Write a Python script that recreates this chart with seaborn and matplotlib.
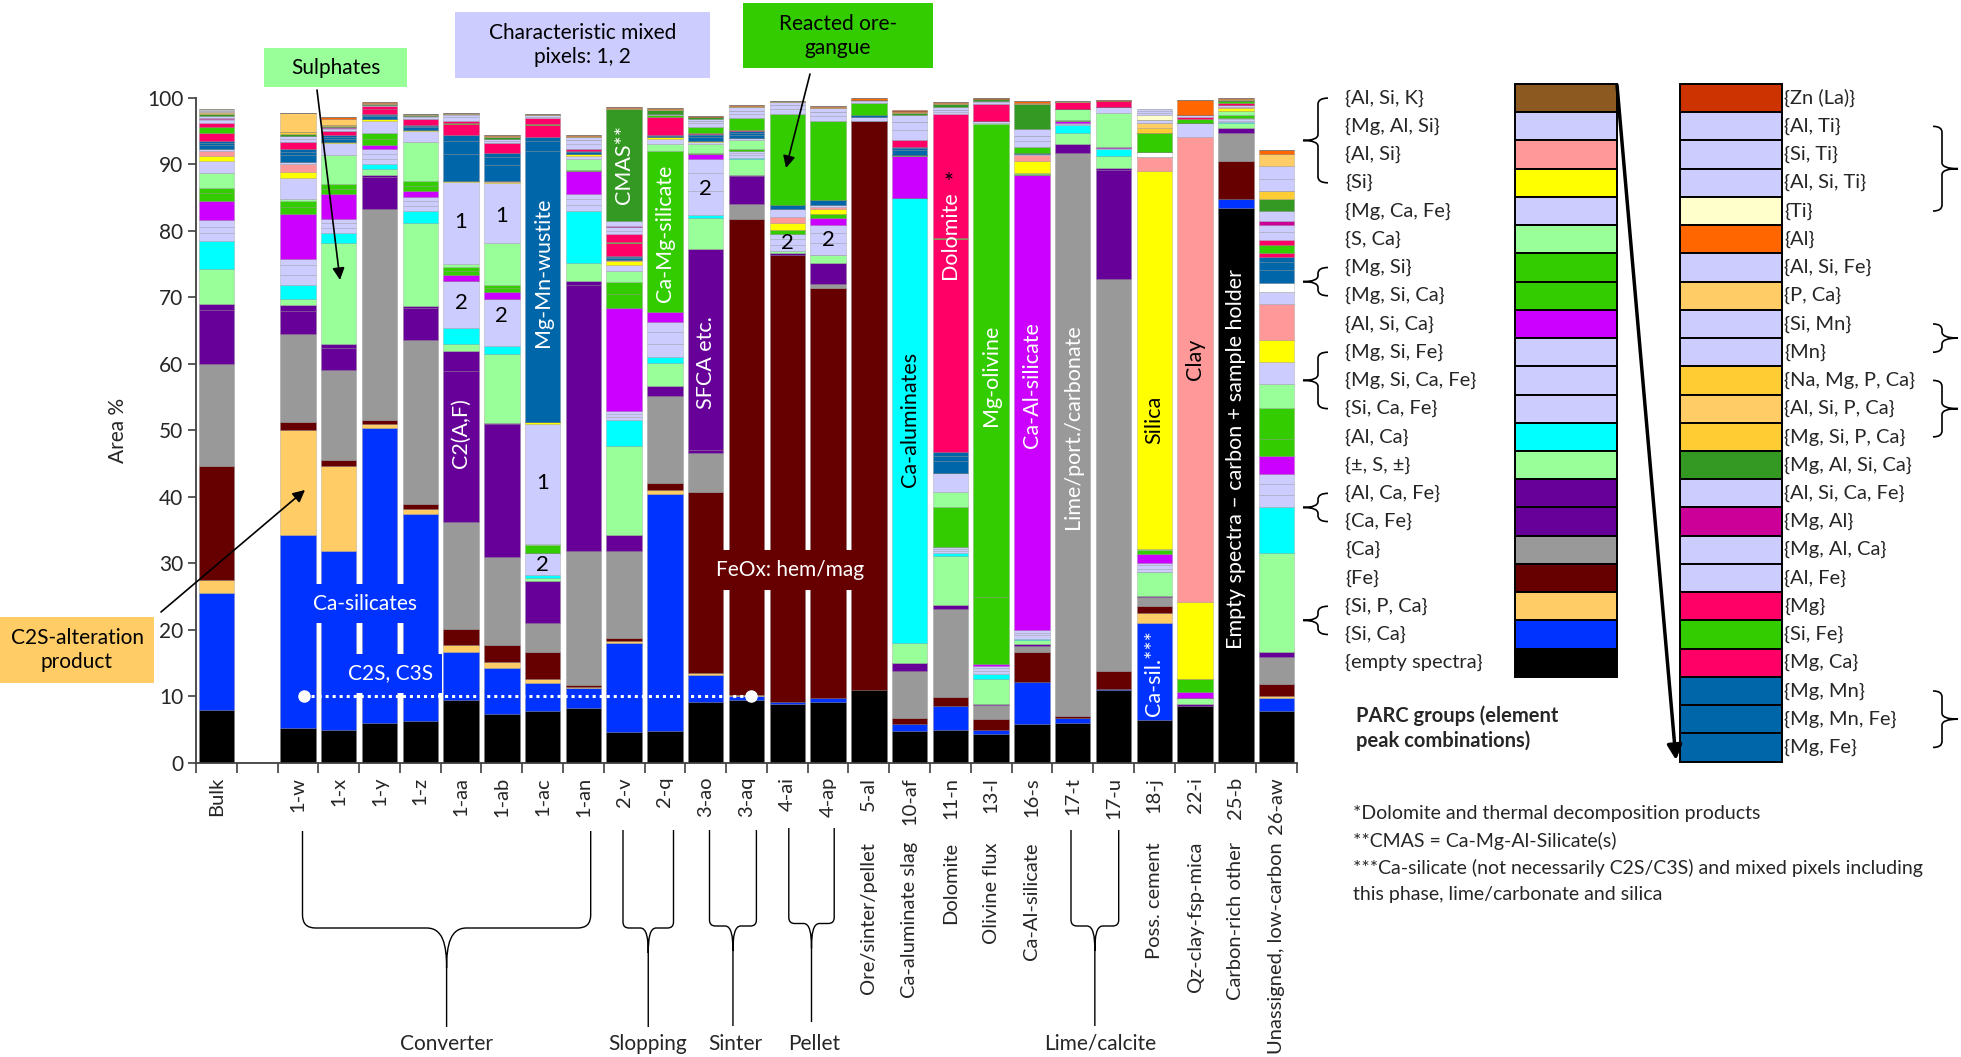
import numpy as np
import pandas as pd
import matplotlib
matplotlib.use("Agg")
import matplotlib.pyplot as plt
import matplotlib.transforms as mtransforms
from matplotlib.path import Path
from matplotlib.patches import PathPatch, Rectangle
import seaborn as sns

sns.set_theme(style="ticks")
plt.rcParams['font.family'] = ['Lato', 'DejaVu Sans']

# ---------------- data ----------------
GROUPS = ["E", "SiCa", "SiPCa", "Fe", "Ca", "CaFe", "AlCaFe", "pmS", "AlCa", "SiCaFe",
          "MgSiCaFe", "MgSiFe", "AlSiCa", "MgSiCa", "MgSi", "SCa", "MgCaFe", "Si", "AlSi",
          "MgAlSi", "AlSiK", "gap", "MgFe", "MgMnFe", "MgMn", "MgCa", "SiFe", "Mg", "AlFe",
          "MgAlCa", "MgAl", "AlSiCaFe", "MgAlSiCa", "MgSiPCa", "AlSiPCa", "NaMgPCa", "Mn",
          "SiMn", "PCa", "AlSiFe", "Al", "Ti", "AlSiTi", "SiTi", "AlTi", "ZnLa"]

LABELS = {"E": "{empty spectra}", "SiCa": "{Si, Ca}", "SiPCa": "{Si, P, Ca}", "Fe": "{Fe}",
          "Ca": "{Ca}", "CaFe": "{Ca, Fe}", "AlCaFe": "{Al, Ca, Fe}", "pmS": "{±, S, ±}",
          "AlCa": "{Al, Ca}", "SiCaFe": "{Si, Ca, Fe}", "MgSiCaFe": "{Mg, Si, Ca, Fe}",
          "MgSiFe": "{Mg, Si, Fe}", "AlSiCa": "{Al, Si, Ca}", "MgSiCa": "{Mg, Si, Ca}",
          "MgSi": "{Mg, Si}", "SCa": "{S, Ca}", "MgCaFe": "{Mg, Ca, Fe}", "Si": "{Si}",
          "AlSi": "{Al, Si}", "MgAlSi": "{Mg, Al, Si}", "AlSiK": "{Al, Si, K}",
          "MgFe": "{Mg, Fe}", "MgMnFe": "{Mg, Mn, Fe}", "MgMn": "{Mg, Mn}", "MgCa": "{Mg, Ca}",
          "SiFe": "{Si, Fe}", "Mg": "{Mg}", "AlFe": "{Al, Fe}", "MgAlCa": "{Mg, Al, Ca}",
          "MgAl": "{Mg, Al}", "AlSiCaFe": "{Al, Si, Ca, Fe}", "MgAlSiCa": "{Mg, Al, Si, Ca}",
          "MgSiPCa": "{Mg, Si, P, Ca}", "AlSiPCa": "{Al, Si, P, Ca}", "NaMgPCa": "{Na, Mg, P, Ca}",
          "Mn": "{Mn}", "SiMn": "{Si, Mn}", "PCa": "{P, Ca}", "AlSiFe": "{Al, Si, Fe}",
          "Al": "{Al}", "Ti": "{Ti}", "AlSiTi": "{Al, Si, Ti}", "SiTi": "{Si, Ti}",
          "AlTi": "{Al, Ti}", "ZnLa": "{Zn (La)}"}

LAV = "#CCCCFF"
COLORS = {"E": "#000000", "SiCa": "#0033FF", "SiPCa": "#FFCC66", "Fe": "#660000", "Ca": "#999999",
          "CaFe": "#660099", "AlCaFe": "#660099", "pmS": "#99FF99", "AlCa": "#00FFFF",
          "SiCaFe": LAV, "MgSiCaFe": LAV, "MgSiFe": LAV, "AlSiCa": "#CC00FF", "MgSiCa": "#33CC00",
          "MgSi": "#33CC00", "SCa": "#99FF99", "MgCaFe": LAV, "Si": "#FFFF00", "AlSi": "#FF9999",
          "MgAlSi": LAV, "AlSiK": "#8C5A20", "gap": "#FFFFFF", "MgFe": "#0066AA", "MgMnFe": "#0066AA",
          "MgMn": "#0066AA", "MgCa": "#FF0066", "SiFe": "#33CC00", "Mg": "#FF0066", "AlFe": LAV,
          "MgAlCa": LAV, "MgAl": "#CC0099", "AlSiCaFe": LAV, "MgAlSiCa": "#339922",
          "MgSiPCa": "#FFCC33", "AlSiPCa": "#FFCC66", "NaMgPCa": "#FFCC33", "Mn": LAV, "SiMn": LAV,
          "PCa": "#FFCC66", "AlSiFe": LAV, "Al": "#FF6600", "Ti": "#FFFFCC", "AlSiTi": LAV,
          "SiTi": LAV, "AlTi": LAV, "ZnLa": "#CC3300"}

codes = ["Bulk", "", "1-w", "1-x", "1-y", "1-z", "1-aa", "1-ab", "1-ac", "1-an", "2-v", "2-q",
         "3-ao", "3-aq", "4-ai", "4-ap", "5-al", "10-af", "11-n", "13-l", "16-s", "17-t", "17-u",
         "18-j", "22-i", "25-b", "26-aw"]
names = {16: "Ore/sinter/pellet", 17: "Ca-aluminate slag", 18: "Dolomite", 19: "Olivine flux",
         20: "Ca-Al-silicate", 23: "Poss. cement", 24: "Qz-clay-fsp-mica", 25: "Carbon-rich other",
         26: "Unassigned, low-carbon"}

bulk = dict(E=8.0, SiCa=17.5, SiPCa=2.0, Fe=17.2, Ca=15.2, CaFe=8.1, AlCaFe=0.9, pmS=5.3, AlCa=4.2,
            SiCaFe=1.2, MgSiCaFe=1.0, MgSiFe=1.0, AlSiCa=2.8, MgSiCa=1.2, MgSi=0.8, SCa=2.2,
            MgCaFe=1.8, Si=0.8, AlSi=0.7, MgAlSi=0.3, MgFe=0.6, MgMnFe=0.3, MgMn=0.3, MgCa=1.2,
            SiFe=0.9, Mg=0.7, AlFe=0.4, MgAlCa=0.2, MgAl=0.15, AlSiCaFe=0.2, MgAlSiCa=0.3,
            MgSiPCa=0.1, AlSiPCa=0.15, NaMgPCa=0.1, Mn=0.05, SiMn=0.05, PCa=0.1, AlSiFe=0.1,
            Al=0.05, Ti=0.05, ZnLa=0.05)
w1 = dict(E=5.2, SiCa=29.1, SiPCa=15.8, Fe=1.1, Ca=13.3, CaFe=3.4, AlCaFe=0.9, pmS=0.9, AlCa=2.1,
          SiCaFe=1.5, MgSiCaFe=1.5, MgSiFe=1.0, AlSiCa=6.7, MgSiCa=1.0, MgSi=0.9, SCa=0.4,
          MgCaFe=3.1, Si=0.9, AlSi=1.2, MgAlSi=0.3, MgFe=1.0, MgMnFe=0.5, MgMn=0.5, MgCa=1.0,
          AlFe=0.5, MgAlCa=0.4, MgAlSiCa=0.3, MgSiPCa=0.3, PCa=2.8)
x1 = dict(E=5.0, SiCa=26.9, SiPCa=12.8, Fe=0.9, Ca=13.5, CaFe=3.3, AlCaFe=0.5, pmS=15.2, AlCa=1.5,
          SiCaFe=0.8, MgSiCaFe=0.7, MgSiFe=0.7, AlSiCa=3.7, MgSiCa=0.8, MgSi=0.7, SCa=4.3,
          MgCaFe=1.9, Si=0.1, MgFe=0.5, MgMnFe=0.3, MgMn=0.2, MgCa=0.7, AlFe=0.2, MgAlCa=0.2,
          MgAl=0.1, MgAlSiCa=0.2, MgSiPCa=0.2, PCa=0.9, Al=0.2)
y1 = dict(E=6.0, SiCa=44.3, SiPCa=0.6, Fe=0.7, Ca=31.6, CaFe=4.8, AlCaFe=0.4, pmS=0.8, AlCa=0.8,
          SiCaFe=0.8, MgSiCaFe=0.7, MgSiFe=0.7, AlSiCa=0.7, MgSiCa=0.9, MgSi=0.8, SCa=0.1,
          MgCaFe=1.8, Si=0.3, MgFe=0.4, MgMnFe=0.2, MgMn=0.1, MgCa=0.8, Mg=0.4, AlFe=0.2,
          MgAlSiCa=0.1, PCa=0.2, Al=0.1)
z1 = dict(E=6.3, SiCa=31.1, SiPCa=0.8, Fe=0.7, Ca=24.7, CaFe=4.7, AlCaFe=0.4, pmS=12.4, AlCa=1.8,
          SiCaFe=0.8, MgSiCaFe=0.7, MgSiFe=0.6, AlSiCa=0.9, MgSiCa=0.8, MgSi=0.7, SCa=5.9,
          MgCaFe=1.6, Si=0.2, MgFe=0.4, MgMnFe=0.2, MgMn=0.2, MgCa=0.8, AlFe=0.3, MgAlCa=0.2,
          MgAlSiCa=0.1, PCa=0.2)
aa1 = dict(E=9.4, SiCa=7.3, SiPCa=1.0, Fe=2.5, Ca=16.0, CaFe=22.7, AlCaFe=3.0, pmS=1.0, AlCa=2.5,
           SiCaFe=7.0, AlSiCa=0.9, MgSiCa=0.7, MgSi=0.6, SCa=0.4, MgCaFe=12.3, Si=0.2, MgFe=4.0,
           MgMnFe=2.0, MgMn=0.9, MgCa=1.6, SiFe=0.2, Mg=0.3, AlFe=0.5, MgAlCa=0.3, AlSiCaFe=0.2,
           PCa=0.1)
ab1 = dict(E=7.3, SiCa=7.0, SiPCa=0.9, Fe=2.6, Ca=13.1, CaFe=20.0, AlCaFe=0.2, pmS=10.4, AlCa=1.2,
           SiCaFe=7.0, AlSiCa=1.0, MgSiCa=0.6, MgSi=0.6, SCa=6.3, MgCaFe=8.9, Si=0.2, AlSi=0.1,
           MgFe=2.5, MgMnFe=1.2, MgMn=0.6, MgCa=1.5, AlFe=0.3, MgAlCa=0.3, MgAlSiCa=0.2, PCa=0.2,
           Al=0.1)
ac1 = dict(E=7.8, SiCa=4.2, SiPCa=0.6, Fe=4.1, Ca=4.3, CaFe=6.4, pmS=0.4, AlCa=0.5, SiCaFe=3.2,
           AlSiCa=0.1, MgSiCa=1.2, SCa=0.1, MgCaFe=18.0, Si=0.3, MgFe=40.8, MgMnFe=1.5, MgMn=0.6,
           MgCa=1.7, SiFe=0.2, Mg=0.9, AlFe=0.2, MgAlCa=0.2, PCa=0.2)
an1 = dict(E=8.3, SiCa=3.0, SiPCa=0.1, Fe=0.3, Ca=20.2, CaFe=40.0, AlCaFe=0.5, pmS=2.8, AlCa=7.7,
           SiCaFe=1.0, MgSiCaFe=0.8, MgSiFe=0.8, AlSiCa=3.4, MgSiCa=0.2, SCa=1.6, MgCaFe=0.5,
           Si=0.3, MgFe=0.3, MgMnFe=0.1, MgMn=0.1, MgCa=0.3, AlFe=0.7, MgAlCa=0.6, AlSiCaFe=0.5,
           PCa=0.1, Al=0.1)
v2 = dict(E=4.7, SiCa=13.3, SiPCa=0.4, Fe=0.4, Ca=13.0, CaFe=2.4, pmS=13.4, AlCa=3.9, SiCaFe=0.5,
          MgSiCaFe=0.5, MgSiFe=0.4, AlSiCa=15.5, MgSiCa=2.0, MgSi=1.9, SCa=1.7, MgCaFe=0.9,
          Si=0.5, AlSi=0.2, MgFe=0.3, MgMnFe=0.2, MgMn=0.1, MgCa=2.0, SiFe=0.1, Mg=1.2, AlFe=0.5,
          MgAlCa=0.5, MgAl=0.2, AlSiCaFe=0.7, MgAlSiCa=16.8, PCa=0.2, Al=0.1)
q2 = dict(E=4.8, SiCa=35.6, SiPCa=0.6, Fe=1.0, Ca=13.2, CaFe=1.4, pmS=3.5, AlCa=0.9, SiCaFe=2.0,
          MgSiCaFe=1.8, MgSiFe=1.5, AlSiCa=1.5, MgSiCa=24.2, SCa=1.0, MgCaFe=0.8, Si=0.2,
          MgFe=0.2, MgMn=0.1, MgCa=2.8, SiFe=0.2, AlFe=0.2, MgAlSiCa=0.6, PCa=0.2, Al=0.1)
ao3 = dict(E=9.1, SiCa=4.1, SiPCa=0.3, Fe=27.2, Ca=5.9, CaFe=0.5, AlCaFe=30.2, pmS=4.6, AlCa=0.5,
           SiCaFe=3.5, MgSiCaFe=2.8, MgSiFe=2.0, AlSiCa=0.8, MgSiCa=0.2, SCa=1.3, MgCaFe=0.3,
           Si=0.2, MgFe=0.5, MgMnFe=0.3, MgMn=0.2, MgCa=0.2, SiFe=0.9, AlFe=0.5, MgAlCa=0.4,
           AlSiCaFe=0.3, MgAlSiCa=0.2, PCa=0.1, Al=0.1)
aq3 = dict(E=9.4, SiCa=0.6, SiPCa=0.2, Fe=71.6, Ca=2.2, CaFe=4.2, AlCaFe=0.2, pmS=2.3, AlCa=0.2,
           SiCaFe=0.4, MgSiCaFe=0.4, MgSiFe=0.3, MgSiCa=0.3, SCa=1.3, MgCaFe=0.3, MgFe=0.5,
           MgMnFe=0.3, MgMn=0.2, MgCa=0.2, SiFe=1.8, AlFe=0.6, MgAlCa=0.5, AlSiCaFe=0.5,
           MgAlSiCa=0.1, PCa=0.1, Al=0.1)
ai4 = dict(E=8.9, SiCa=0.2, Fe=67.3, CaFe=0.2, pmS=0.3, SiCaFe=1.0, MgSiCaFe=0.8, MgSiFe=0.8,
           MgSiCa=0.6, Si=1.1, AlSi=0.8, MgAlSi=1.3, MgFe=0.5, SiFe=13.7, AlFe=0.7, MgAlCa=0.6,
           AlSiCaFe=0.5, PCa=0.1, Al=0.1)
ap4 = dict(E=9.1, SiCa=0.7, Fe=61.5, Ca=0.7, CaFe=3.2, pmS=1.2, SiCaFe=1.8, MgSiCaFe=1.5,
           MgSiFe=1.2, AlSiCa=1.0, MgSiCa=0.6, Si=0.7, AlSi=0.3, MgAlSi=0.3, MgFe=0.8, SiFe=11.9,
           AlFe=0.7, MgAlCa=0.6, AlSiCaFe=0.6, PCa=0.1, Al=0.2)
al5 = dict(E=10.9, Fe=85.6, MgAlSi=0.6, MgFe=0.2, SiFe=1.8, AlFe=0.3, MgAlCa=0.2, Al=0.3)
af10 = dict(E=4.8, SiCa=1.1, Fe=0.9, Ca=7.0, CaFe=1.2, pmS=3.0, AlCa=66.9, AlSiCa=6.3, MgSiCa=0.1,
            MgFe=0.8, MgMnFe=0.3, MgMn=0.2, MgCa=1.0, AlFe=1.5, MgAlCa=1.2, AlSiCaFe=1.0,
            MgAlSiCa=0.3, PCa=0.2, Al=0.2, ZnLa=0.1)
n11 = dict(E=4.9, SiCa=3.7, Fe=1.3, Ca=13.2, CaFe=0.7, pmS=7.3, AlCa=0.5, SiCaFe=0.3,
           MgSiCaFe=0.3, MgSiFe=0.2, AlSiCa=0.1, MgSiCa=5.9, SCa=2.3, MgCaFe=2.9, MgFe=1.8,
           MgMnFe=0.8, MgMn=0.5, MgCa=32.1, SiFe=0.05, Mg=18.6, AlFe=0.4, MgAlCa=0.3,
           AlSiCaFe=0.4, MgAlSiCa=0.5, PCa=0.1, Al=0.1)
l13 = dict(E=4.4, SiCa=0.6, Fe=1.6, Ca=2.1, CaFe=0.1, pmS=3.8, AlCa=0.7, SiCaFe=0.5, MgSiCaFe=0.4,
           MgSiFe=0.4, AlSiCa=0.3, MgSiCa=10.0, MgSi=71.1, SCa=0.1, MgCaFe=0.4, MgCa=2.5,
           AlFe=0.3, MgAlCa=0.2, MgAlSiCa=0.2, PCa=0.1, Al=0.1)
s16 = dict(E=5.9, SiCa=6.3, Fe=4.5, Ca=0.9, CaFe=0.3, pmS=0.6, AlCa=0.2, SiCaFe=0.5, MgSiCaFe=0.4,
           MgSiFe=0.4, AlSiCa=68.4, MgSiCa=0.1, SCa=0.1, MgCaFe=0.1, Si=1.7, AlSi=0.9, MgAlSi=0.2,
           MgFe=0.1, SiFe=1.0, AlFe=0.8, MgAlCa=0.8, AlSiCaFe=1.0, MgAlSiCa=3.8, PCa=0.2, Al=0.2)
t17 = dict(E=6.0, SiCa=0.8, Fe=0.3, Ca=84.6, CaFe=1.3, pmS=1.7, AlCa=1.2, SiCaFe=0.1,
           MgSiCaFe=0.1, MgSiFe=0.1, AlSiCa=0.2, MgSiCa=0.2, SCa=1.6, MgCa=1.1, PCa=0.1)
u17 = dict(E=10.9, SiCa=0.2, Fe=2.7, Ca=59.0, CaFe=16.3, AlCaFe=0.3, pmS=1.8, AlCa=1.1,
           SiCaFe=0.1, AlSiCa=0.1, SCa=5.2, MgCaFe=0.8, MgCa=1.0, Al=0.1)
j18 = dict(E=6.5, SiCa=14.5, SiPCa=1.6, Fe=1.0, Ca=1.4, CaFe=0.1, pmS=3.6, SiCaFe=0.5,
           MgSiCaFe=0.5, MgSiFe=0.4, AlSiCa=1.3, MgSiCa=0.6, SCa=0.2, Si=56.7, AlSi=2.1, gap=0.8,
           SiFe=2.8, MgSiPCa=0.8, AlSiPCa=0.8, Mn=0.4, Ti=0.7, AlSiTi=0.4, SiTi=0.3, AlTi=0.2)
i22 = dict(E=8.6, CaFe=0.2, pmS=1.0, AlSiCa=0.8, MgSiCa=2.0, Si=11.6, AlSi=69.9, MgAlSi=2.1,
           SiFe=0.5, Mg=0.4, AlFe=0.3, Al=2.2)
b25 = dict(E=83.4, SiCa=1.4, Fe=5.7, Ca=4.1, CaFe=0.8, pmS=0.8, AlCa=0.1, SiCaFe=0.2,
           MgSiCaFe=0.2, MgSiFe=0.2, MgSiCa=0.5, SCa=0.5, Si=0.5, AlSi=0.1, MgAlSi=0.3, MgFe=0.1,
           MgCa=0.3, SiFe=0.3, MgAlSiCa=0.1, PCa=0.1, Al=0.2)
aw26 = dict(E=7.8, SiCa=2.0, SiPCa=0.2, Fe=1.9, Ca=4.0, CaFe=0.8, pmS=14.8, AlCa=6.9, SiCaFe=1.8,
            MgSiCaFe=1.7, MgSiFe=1.6, AlSiCa=2.7, MgSiCa=2.5, MgSi=4.7, SCa=3.5, MgCaFe=3.3,
            Si=3.4, AlSi=5.4, MgAlSi=1.8, gap=1.3, MgFe=2.0, MgMnFe=1.2, MgMn=0.7, MgCa=0.7,
            SiFe=1.1, Mg=0.8, AlFe=1.2, MgAlCa=1.1, MgAl=0.5, AlSiCaFe=1.5, MgAlSiCa=1.9,
            MgSiPCa=1.1, Mn=1.9, SiMn=1.9, PCa=1.8, Al=0.6)

bar_data = [bulk, None, w1, x1, y1, z1, aa1, ab1, ac1, an1, v2, q2, ao3, aq3, ai4, ap4, al5,
            af10, n11, l13, s16, t17, u17, j18, i22, b25, aw26]

rows = []
for slot, d in enumerate(bar_data):
    if d is None:
        continue
    for g in GROUPS:
        rows.append((slot, g, float(d.get(g, 0.0))))
df = pd.DataFrame(rows, columns=["slot", "group", "value"])

# ---------------- figure ----------------
W, H = 1961, 1057
fig = plt.figure(figsize=(W / 100, H / 100), dpi=100)
AX_L, AX_R, AX_T, AX_B = 196, 1297, 97.5, 763
ax = fig.add_axes([AX_L / W, 1 - AX_B / H, (AX_R - AX_L) / W, (AX_B - AX_T) / H])

# seaborn stacks the first hue level on top -> give the top-most group first
sns.histplot(data=df, x="slot", weights="value", hue="group", hue_order=GROUPS[::-1],
             multiple="stack", discrete=True, shrink=0.87, palette=COLORS, alpha=1,
             edgecolor=(0.45, 0.45, 0.45, 0.35), linewidth=0.5, legend=False, ax=ax)

ax.set_xlim(-0.5, 26.5)
ax.set_ylim(0, 100)
ax.set_xlabel("")
ax.set_ylabel("")
sns.despine(ax=ax)
for sp in ("left", "bottom"):
    ax.spines[sp].set_color("#404040")
    ax.spines[sp].set_linewidth(1.3)
ax.set_yticks(range(0, 101, 10))
ax.tick_params(axis="y", length=6, width=1.2, color="#404040", labelsize=15, pad=3)
ax.set_xticks(np.arange(-0.5, 27, 1))
ax.set_xticklabels([])
ax.set_xticks(np.arange(27), minor=True)
ax.set_xticklabels(codes, minor=True, rotation=90, fontsize=14.5)
ax.tick_params(axis="x", which="major", length=7, width=1.2, color="#404040")
ax.tick_params(axis="x", which="minor", length=0, pad=10)

trans = mtransforms.blended_transform_factory(ax.transData, ax.transAxes)
for slot, nm in names.items():
    ax.text(slot, (AX_B - 842) / (AX_B - AX_T), nm, transform=trans, rotation=90,
            ha="center", va="top", fontsize=14.5)

# texts in bars
vt = [(6, 49.6, "C2(A,F)", "white"), (8, 73.8, "Mg-Mn-wustite", "white"),
      (10, 90.0, "CMAS**", "white"), (11, 79.6, "Ca-Mg-silicate", "white"),
      (12, 60.1, "SFCA etc.", "white"), (17, 51.6, "Ca-aluminates", "black"),
      (18, 79.3, "Dolomite", "white"), (19, 58.2, "Mg-olivine", "white"),
      (20, 56.8, "Ca-Al-silicate", "white"), (21, 50.6, "Lime/port./carbonate", "white"),
      (23, 51.6, "Silica", "black"), (23, 13.5, "Ca-sil.***", "white"), (24, 60.7, "Clay", "black"),
      (25, 45.7, "Empty spectra \u2013 carbon + sample holder", "white")]
for sx, sy, t, c in vt:
    ax.text(sx, sy, t, rotation=90, ha="center", va="center", color=c, fontsize=15.5, zorder=5)
ax.text(17.95, 87.2, "*", ha="center", va="center", color="black", fontsize=17, zorder=5)
nums = [(6, 81.3, "1"), (6, 69.1, "2"), (7, 82.2, "1"), (7, 67.2, "2"), (8, 42.1, "1"),
        (8, 29.8, "2"), (12, 86.2, "2"), (14, 78.2, "2"), (15, 78.6, "2")]
for sx, sy, t in nums:
    ax.text(sx, sy, t, ha="center", va="center", color="black", fontsize=16, zorder=5)
ax.plot([2.15, 13.11], [10, 10], color="white", ls=(0, (1, 1.3)), lw=2.2, zorder=6)
ax.plot([2.15, 13.11], [10, 10], "o", color="white", ms=8, zorder=6)

# ---------------- overlay (pixel coords) ----------------
ov = fig.add_axes([0, 0, 1, 1], zorder=5)
ov.set_xlim(0, W)
ov.set_ylim(H, 0)
ov.axis("off")
ov.patch.set_visible(False)

def box(x0, y0, x1, y1, color, text, tcolor="black", fs=15):
    ov.add_patch(Rectangle((x0, y0), x1 - x0, y1 - y0, facecolor=color, edgecolor="none"))
    ov.text((x0 + x1) / 2, (y0 + y1) / 2, text, ha="center", va="center", color=tcolor,
            fontsize=fs, linespacing=1.25)

box(264, 48, 407, 87, "#99FF99", "Sulphates")
box(455, 12, 710, 78, "#CCCCFF", "Characteristic mixed\npixels: 1, 2")
box(743, 3, 933, 68, "#33CC00", "Reacted ore-\ngangue")
box(0, 617, 154, 683, "#FFCC66", "C2S-alteration\nproduct")
box(310, 584, 420, 623, "#0033FF", "Ca-silicates", "white")
box(340, 654, 442, 693, "#0033FF", "C2S, C3S", "white")
box(716, 550, 864, 590, "#660000", "FeOx: hem/mag", "white")

aprops = dict(arrowstyle="-|>", color="black", lw=1.2, mutation_scale=18, shrinkA=0, shrinkB=0)
ov.annotate("", xy=(340, 280), xytext=(317, 90), arrowprops=aprops)
ov.annotate("", xy=(786, 168), xytext=(810, 74), arrowprops=aprops)
ov.annotate("", xy=(305, 490), xytext=(161, 612), arrowprops=aprops)

ov.text(118, 430, "Area %", rotation=90, ha="center", va="center", fontsize=15)

def hbrace(x1, x2, ytop, ymid, ytip, r, cw, ch):
    xc = (x1 + x2) / 2
    v = [(x1, ytop), (x1, ymid - r), (x1, ymid), (x1 + r, ymid), (xc - cw, ymid),
         (xc - cw * 0.2, ymid), (xc, ymid + ch * 0.4), (xc, ymid + ch), (xc, ytip),
         (xc, ymid + ch), (xc, ymid + ch * 0.4), (xc + cw * 0.2, ymid), (xc + cw, ymid),
         (x2 - r, ymid), (x2, ymid), (x2, ymid - r), (x2, ytop)]
    c = [Path.MOVETO, Path.LINETO, Path.CURVE3, Path.CURVE3, Path.LINETO, Path.CURVE4,
         Path.CURVE4, Path.CURVE4, Path.LINETO, Path.MOVETO, Path.CURVE4, Path.CURVE4,
         Path.CURVE4, Path.LINETO, Path.CURVE3, Path.CURVE3, Path.LINETO]
    ov.add_patch(PathPatch(Path(v, c), facecolor="none", edgecolor="black", lw=1.0))

hbrace(302.5, 590.7, 831, 928, 1027, 13, 20, 40)
hbrace(623, 673.5, 830, 928, 1027, 6, 8, 25)
hbrace(709.5, 756.4, 830, 926, 1026, 6, 8, 25)
hbrace(788.8, 834.2, 828, 923.5, 1022, 6, 8, 25)
hbrace(1071, 1118.7, 830, 926, 1026, 6, 8, 25)
for x, t in [(446.6, "Converter"), (648, "Slopping"), (735, "Sinter"), (814, "Pellet"),
             (1100, "Lime/calcite")]:
    ov.text(x, 1044, t, ha="center", va="center", fontsize=15)

# legend columns
ROW_H = 28.23
TOP = 84
col1 = GROUPS[0:21][::-1]
col2 = [g for g in GROUPS[22:]][::-1]
for i, g in enumerate(col1):
    y = TOP + i * ROW_H
    ov.add_patch(Rectangle((1515, y), 102, ROW_H, facecolor=COLORS[g], edgecolor="black", lw=1.4))
    ov.text(1345, y + ROW_H / 2, LABELS[g], ha="left", va="center", fontsize=14.5)
for i, g in enumerate(col2):
    y = TOP + i * ROW_H
    ov.add_patch(Rectangle((1680, y), 102, ROW_H, facecolor=COLORS[g], edgecolor="black", lw=1.4))
    ov.text(1784, y + ROW_H / 2, LABELS[g], ha="left", va="center", fontsize=14.5)

def vbrace(x, r0, r1, s, arm, tip, r=6):
    y1 = TOP + (r0 + 0.5) * ROW_H
    y2 = TOP + (r1 + 0.5) * ROW_H
    ym = (y1 + y2) / 2
    v = [(x + s * arm, y1), (x, y1), (x, y1 + r), (x, ym - r), (x, ym), (x - s * tip, ym),
         (x - s * tip, ym), (x, ym), (x, ym + r), (x, y2 - r), (x, y2), (x + s * arm, y2)]
    c = [Path.MOVETO, Path.CURVE3, Path.CURVE3, Path.LINETO, Path.CURVE3, Path.CURVE3,
         Path.MOVETO, Path.CURVE3, Path.CURVE3, Path.LINETO, Path.CURVE3, Path.CURVE3]
    ov.add_patch(PathPatch(Path(v, c), facecolor="none", edgecolor="black", lw=1.2))

for r0, r1 in [(0, 3), (6, 7), (9, 11), (14, 15), (18, 19)]:
    vbrace(1318, r0, r1, 1, 10, 15)
for r0, r1 in [(1, 4), (8, 9), (10, 12), (21, 23)]:
    vbrace(1942, r0, r1, -1, 9, 16)

ov.annotate("", xy=(1676, 760), xytext=(1617, 85),
            arrowprops=dict(arrowstyle="-|>", color="black", lw=2.5, mutation_scale=22,
                            shrinkA=0, shrinkB=0))
ov.text(1356, 728, "PARC groups (element\npeak combinations)", ha="left", va="center",
        fontsize=14.5, fontweight="bold", linespacing=1.25)

notes = ["*Dolomite and thermal decomposition products", "**CMAS = Ca-Mg-Al-Silicate(s)",
         "***Ca-silicate (not necessarily C2S/C3S) and mixed pixels including",
         "this phase, lime/carbonate and silica"]
for k, t in enumerate(notes):
    ov.text(1353, 814 + k * 26.8, t, ha="left", va="center", fontsize=14)

fig.savefig("out.png", dpi=100, facecolor="white")
